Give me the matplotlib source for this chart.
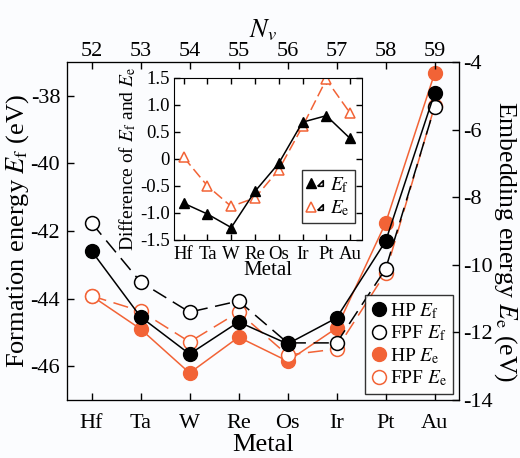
import matplotlib
matplotlib.use("Agg")
import matplotlib.pyplot as plt
from matplotlib.lines import Line2D
from matplotlib.legend_handler import HandlerTuple

plt.rcParams['font.family'] = ['Liberation Serif', 'DejaVu Serif']
plt.rcParams['mathtext.fontset'] = 'stix'
plt.rcParams['axes.unicode_minus'] = False

metals = ['Hf', 'Ta', 'W', 'Re', 'Os', 'Ir', 'Pt', 'Au']
nv = [52, 53, 54, 55, 56, 57, 58, 59]

# formation energy (left axis, eV)
hp_ef = [-42.59, -44.54, -45.64, -44.69, -45.34, -44.57, -42.30, -37.92]
fpf_ef = [-41.76, -43.51, -44.40, -44.07, -45.31, -45.31, -43.12, -38.33]
# embedding energy (right axis, eV)
hp_ee = [-10.92, -11.90, -13.20, -12.14, -12.85, -11.87, -8.76, -4.33]
fpf_ee = [-10.92, -11.37, -12.28, -11.40, -12.67, -12.49, -10.24, -5.30]
# inset: difference HP - FPF
diff_ef = [-0.82, -1.02, -1.27, -0.60, -0.08, 0.68, 0.80, 0.38]
diff_ee = [0.03, -0.50, -0.88, -0.72, -0.20, 0.60, 1.47, 0.85]
inset_yticks = [-1.5, -1.0, -0.5, 0, 0.5, 1.0, 1.5]
inset_ylabels = ['-1.5', '-1.0', '-0.5', '0', '0.5', '1.0', '1.5']

ORANGE = '#f26336'
x = list(range(len(metals)))

fig = plt.figure(figsize=(5.2, 4.58), dpi=100)
fig.patch.set_facecolor('#fbfcfe')
ax = fig.add_axes([0.129, 0.1266, 0.754, 0.738])
ax2 = ax.twinx()
ax3 = ax.twiny()

ax.plot(x, fpf_ef, color='black', lw=1.1, dashes=(10, 5), marker='o', ms=10,
        mfc='white', mec='black', mew=1.1, zorder=3)
ax.plot(x, hp_ef, color='black', lw=1.1, marker='o', ms=10, mfc='black', mec='black', zorder=4)
ax2.plot(x, fpf_ee, color=ORANGE, lw=1.1, dashes=(10, 5), marker='o', ms=10,
         mfc='white', mec=ORANGE, mew=1.1, zorder=3)
ax2.plot(x, hp_ee, color=ORANGE, lw=1.1, marker='o', ms=10, mfc=ORANGE, mec=ORANGE, zorder=2)
ax.set_zorder(ax2.get_zorder() + 1)
ax.patch.set_visible(False)

ax.set_xlim(-0.5, 7.5)
ax.set_ylim(-47, -37)
ax2.set_ylim(-14, -4)
ax.set_xticks(x)
ax.set_xticklabels(metals)
ax.set_yticks([-46, -44, -42, -40, -38])
ax2.set_yticks([-14, -12, -10, -8, -6, -4])
ax3.set_xlim(-0.5, 7.5)
ax3.set_xticks(x)
ax3.set_xticklabels([str(n) for n in nv])

for a in (ax, ax2, ax3):
    a.tick_params(direction='in', length=5, width=1, labelsize=16, pad=5)
ax.tick_params(axis='x', pad=10)
ax2.tick_params(axis='y', pad=3)
ax3.tick_params(axis='x', pad=1)

ax.set_xlabel('Metal', fontsize=19, labelpad=1)
ax.set_ylabel(r'Formation energy $E_\mathrm{f}$ (eV)', fontsize=19, va='center')
ax.yaxis.set_label_coords(-0.127, 0.5)
ax2.set_ylabel(r'Embedding energy $E_\mathrm{e}$ (eV)', fontsize=18.5, rotation=270, va='center')
ax2.yaxis.set_label_coords(1.118, 0.47)
ax3.set_xlabel(r'$N_v$', fontsize=19, labelpad=3)

handles = [
    Line2D([], [], ls='none', marker='o', ms=10, mfc='black', mec='black'),
    Line2D([], [], ls='none', marker='o', ms=10, mfc='white', mec='black', mew=1.1),
    Line2D([], [], ls='none', marker='o', ms=10, mfc=ORANGE, mec=ORANGE),
    Line2D([], [], ls='none', marker='o', ms=10, mfc='white', mec=ORANGE, mew=1.1),
]
labels = [r'HP $E_\mathrm{f}$', r'FPF $E_\mathrm{f}$', r'HP $E_\mathrm{e}$', r'FPF $E_\mathrm{e}$']
leg = ax.legend(handles, labels, loc='lower right', fontsize=14, frameon=True, fancybox=False,
                handlelength=0.8, handletextpad=0.2, borderpad=0.3, labelspacing=0.15,
                borderaxespad=0.3)
leg.get_frame().set_edgecolor('black')
leg.get_frame().set_linewidth(1.0)
leg.set_zorder(10)

# inset
axi = fig.add_axes([0.335, 0.476, 0.361, 0.354])
axi.plot(x, diff_ee, color=ORANGE, lw=1.1, dashes=(7, 3), marker='^', ms=7,
         mfc='white', mec=ORANGE, mew=1.1)
axi.plot(x, diff_ef, color='black', lw=1.1, marker='^', ms=7, mfc='black', mec='black')
axi.set_xlim(-0.4, 7.5)
axi.set_ylim(-1.5, 1.5)
axi.set_xticks(x)
axi.set_xticklabels(metals)
axi.set_yticks(inset_yticks)
axi.set_yticklabels(inset_ylabels)
axi.tick_params(direction='in', length=4, width=1, labelsize=13.5, top=True, right=True, pad=3)
axi.tick_params(axis='x', pad=4)
axi.set_xlabel('Metal', fontsize=15, labelpad=-1)
axi.set_ylabel(r'Difference of $E_\mathrm{f}$ and $E_\mathrm{e}$', fontsize=14, labelpad=2)

rt = [(-1, -1), (1, -1), (1, 1), (-1, -1)]
ih = [
    (Line2D([], [], ls='none', marker='^', ms=6.5, mfc='black', mec='black'),
     Line2D([], [], ls='none', marker=rt, ms=4, mfc='white', mec='black', mew=1.2)),
    (Line2D([], [], ls='none', marker='^', ms=6.5, mfc='white', mec=ORANGE, mew=1.1),
     Line2D([], [], ls='none', marker=rt, ms=4, mfc='white', mec='black', mew=1.2)),
]
ileg = axi.legend(ih, [r'$E_\mathrm{f}$', r'$E_\mathrm{e}$'], loc='lower right', fontsize=14,
                  frameon=True, fancybox=False, handler_map={tuple: HandlerTuple(ndivide=None, pad=0.0)},
                  handlelength=0.9, handletextpad=0.3, borderpad=0.25, labelspacing=0.2,
                  borderaxespad=0.0, bbox_to_anchor=(0.963, 0.105))
ileg.get_frame().set_edgecolor('black')
ileg.get_frame().set_linewidth(1.0)

fig.savefig('out.png', dpi=100, facecolor=fig.get_facecolor())
